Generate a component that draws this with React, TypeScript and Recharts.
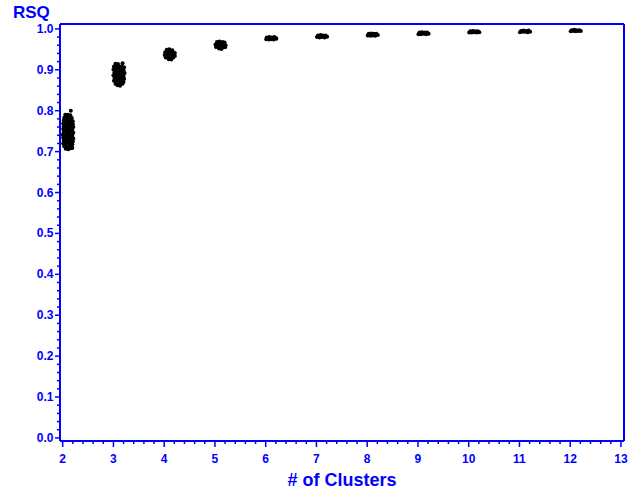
import { ScatterChart, Scatter, XAxis, YAxis, ReferenceLine } from "recharts";

const BLUE = "#0000FF";
const FONT = "'Liberation Sans', Arial, sans-serif";

// RSQ values per number of clusters (x slightly jittered)
const k2 = [
  [2.16, 0.8],
  [2.05, 0.79], [2.1, 0.79], [2.15, 0.789],
  [2.03, 0.783], [2.08, 0.784], [2.13, 0.783], [2.18, 0.782],
  [2.02, 0.776], [2.07, 0.777], [2.12, 0.775], [2.17, 0.776], [2.2, 0.774],
  [2.01, 0.769], [2.05, 0.768], [2.1, 0.77], [2.15, 0.769], [2.2, 0.767],
  [2.02, 0.762], [2.07, 0.761], [2.12, 0.763], [2.17, 0.762], [2.21, 0.76],
  [2.01, 0.755], [2.05, 0.754], [2.1, 0.756], [2.14, 0.755], [2.19, 0.753],
  [2.02, 0.748], [2.07, 0.747], [2.12, 0.749], [2.16, 0.748], [2.21, 0.746],
  [2.0, 0.741], [2.05, 0.74], [2.09, 0.742], [2.14, 0.741], [2.19, 0.739],
  [2.01, 0.734], [2.06, 0.733], [2.11, 0.735], [2.16, 0.734], [2.21, 0.732],
  [2.02, 0.727], [2.07, 0.726], [2.12, 0.728], [2.17, 0.727], [2.2, 0.725],
  [2.01, 0.72], [2.05, 0.719], [2.1, 0.721], [2.15, 0.72], [2.19, 0.718],
  [2.03, 0.713], [2.08, 0.712], [2.13, 0.714], [2.18, 0.713],
  [2.06, 0.707], [2.11, 0.706], [2.16, 0.708], [2.19, 0.709],
];
const k3 = [
  [3.04, 0.915], [3.09, 0.914], [3.18, 0.916],
  [3.01, 0.908], [3.06, 0.907], [3.11, 0.909], [3.16, 0.908], [3.21, 0.906],
  [3.0, 0.901], [3.05, 0.9], [3.1, 0.902], [3.15, 0.901], [3.2, 0.899],
  [3.02, 0.894], [3.07, 0.893], [3.12, 0.895], [3.17, 0.894], [3.22, 0.892],
  [3.0, 0.887], [3.05, 0.886], [3.1, 0.888], [3.15, 0.887], [3.2, 0.885],
  [3.02, 0.88], [3.07, 0.879], [3.12, 0.881], [3.17, 0.88], [3.21, 0.878],
  [3.01, 0.873], [3.06, 0.872], [3.11, 0.874], [3.16, 0.873], [3.2, 0.871],
  [3.04, 0.866], [3.09, 0.865], [3.14, 0.867], [3.18, 0.866],
  [3.08, 0.862], [3.13, 0.861],
];
const k4 = [
  [4.05, 0.949], [4.1, 0.95], [4.16, 0.948],
  [4.02, 0.943], [4.07, 0.942], [4.12, 0.944], [4.17, 0.943], [4.21, 0.941],
  [4.01, 0.936], [4.06, 0.935], [4.11, 0.937], [4.16, 0.936], [4.21, 0.934],
  [4.03, 0.93], [4.08, 0.929], [4.13, 0.931], [4.18, 0.93],
  [4.09, 0.926], [4.14, 0.925],
];
const k5 = [
  [5.04, 0.968], [5.09, 0.969], [5.15, 0.968], [5.19, 0.967],
  [5.01, 0.962], [5.06, 0.961], [5.11, 0.963], [5.16, 0.962], [5.21, 0.96],
  [5.02, 0.956], [5.07, 0.955], [5.12, 0.957], [5.17, 0.956], [5.2, 0.955],
  [5.08, 0.952], [5.13, 0.951],
];
const k6 = [
  [6.02, 0.979], [6.07, 0.98], [6.12, 0.979], [6.17, 0.98], [6.2, 0.978],
  [6.01, 0.975], [6.06, 0.974], [6.11, 0.975], [6.16, 0.974], [6.21, 0.976],
];
const k7 = [
  [7.03, 0.984], [7.08, 0.985], [7.13, 0.984], [7.18, 0.984],
  [7.01, 0.98], [7.06, 0.979], [7.11, 0.98], [7.16, 0.979], [7.21, 0.981],
];
const k8 = [
  [8.03, 0.988], [8.08, 0.989], [8.13, 0.988], [8.18, 0.988],
  [8.01, 0.984], [8.06, 0.983], [8.11, 0.984], [8.16, 0.983], [8.21, 0.985],
];
const k9 = [
  [9.03, 0.991], [9.08, 0.992], [9.13, 0.991], [9.18, 0.991],
  [9.01, 0.987], [9.06, 0.987], [9.11, 0.988], [9.16, 0.987], [9.21, 0.988],
];
const k10 = [
  [10.03, 0.994], [10.08, 0.995], [10.13, 0.994], [10.18, 0.994],
  [10.01, 0.991], [10.06, 0.991], [10.11, 0.992], [10.16, 0.991], [10.21, 0.992],
];
const k11 = [
  [11.03, 0.995], [11.08, 0.996], [11.13, 0.995], [11.18, 0.996],
  [11.01, 0.992], [11.06, 0.993], [11.11, 0.993], [11.16, 0.992], [11.21, 0.993],
];
const k12 = [
  [12.03, 0.997], [12.08, 0.998], [12.13, 0.997], [12.18, 0.997],
  [12.01, 0.994], [12.06, 0.995], [12.11, 0.994], [12.16, 0.995], [12.21, 0.995],
];

const points = [...k2, ...k3, ...k4, ...k5, ...k6, ...k7, ...k8, ...k9, ...k10, ...k11, ...k12].map(
  ([x, y]) => ({ x, y })
);

const X_MIN = 1.947;
const X_MAX = 13.06;
const Y_MIN = -0.0075;
const Y_MAX = 1.012;

// major ticks every 1 / 0.1, minor every 0.2 / 0.02
const xTicks: number[] = [];
for (let i = 0; i <= 55; i++) xTicks.push(Math.round((2 + i * 0.2) * 10) / 10);
const yTicks: number[] = [];
for (let i = 0; i <= 50; i++) yTicks.push(Math.round(i * 2) / 100);

function XTick(props: any) {
  const { x, y, payload } = props;
  const v = payload.value;
  const major = Math.abs(v - Math.round(v)) < 1e-6;
  return (
    <g>
      <line x1={x} x2={x} y1={y} y2={y + (major ? 6 : 3)} stroke={BLUE} strokeWidth={1.5} />
      {major && (
        <text x={x} y={y + 22} textAnchor="middle" fill={BLUE} fontSize={12} fontWeight="bold" fontFamily={FONT}>
          {Math.round(v)}
        </text>
      )}
    </g>
  );
}

function YTick(props: any) {
  const { x, y, payload } = props;
  const v = payload.value;
  const major = Math.abs(v * 10 - Math.round(v * 10)) < 1e-6;
  return (
    <g>
      <line x1={x - (major ? 5 : 3)} x2={x} y1={y} y2={y} stroke={BLUE} strokeWidth={1.5} />
      {major && (
        <text x={x - 6.5} y={y} dy={4} textAnchor="end" fill={BLUE} fontSize={12} fontWeight="bold" fontFamily={FONT}>
          {v.toFixed(1)}
        </text>
      )}
    </g>
  );
}

const Dot = (props: any) => <circle cx={props.cx} cy={props.cy} r={2} fill="#000" />;

export default function App() {
  return (
    <div style={{ position: "absolute", left: 0, top: 0, background: "#fff" }}>
      <ScatterChart width={634} height={489} margin={{ top: 24, right: 10, left: 0, bottom: 0 }}>
        <XAxis
          dataKey="x"
          type="number"
          domain={[X_MIN, X_MAX]}
          ticks={xTicks}
          interval={0}
          tick={<XTick />}
          tickLine={false}
          tickSize={0}
          tickMargin={0}
          height={48}
          axisLine={{ stroke: BLUE, strokeWidth: 2 }}
          label={{
            content: (p: any) => (
              <text
                x={p.viewBox.x + p.viewBox.width / 2}
                y={p.viewBox.y + 45}
                textAnchor="middle"
                fill={BLUE}
                fontSize={18}
                fontWeight="bold"
                fontFamily={FONT}
              >
                # of Clusters
              </text>
            ),
          }}
        />
        <YAxis
          dataKey="y"
          type="number"
          domain={[Y_MIN, Y_MAX]}
          ticks={yTicks}
          interval={0}
          tick={<YTick />}
          tickLine={false}
          tickSize={0}
          tickMargin={0}
          width={60}
          axisLine={{ stroke: BLUE, strokeWidth: 2 }}
          label={{
            content: () => (
              <text x={13} y={18} fill={BLUE} fontSize={17} fontWeight="bold" fontFamily={FONT}>
                RSQ
              </text>
            ),
          }}
        />
        <ReferenceLine y={Y_MAX} stroke={BLUE} strokeWidth={2} />
        <ReferenceLine x={X_MAX} stroke={BLUE} strokeWidth={2} />
        <Scatter data={points} shape={Dot} isAnimationActive={false} />
      </ScatterChart>
    </div>
  );
}
